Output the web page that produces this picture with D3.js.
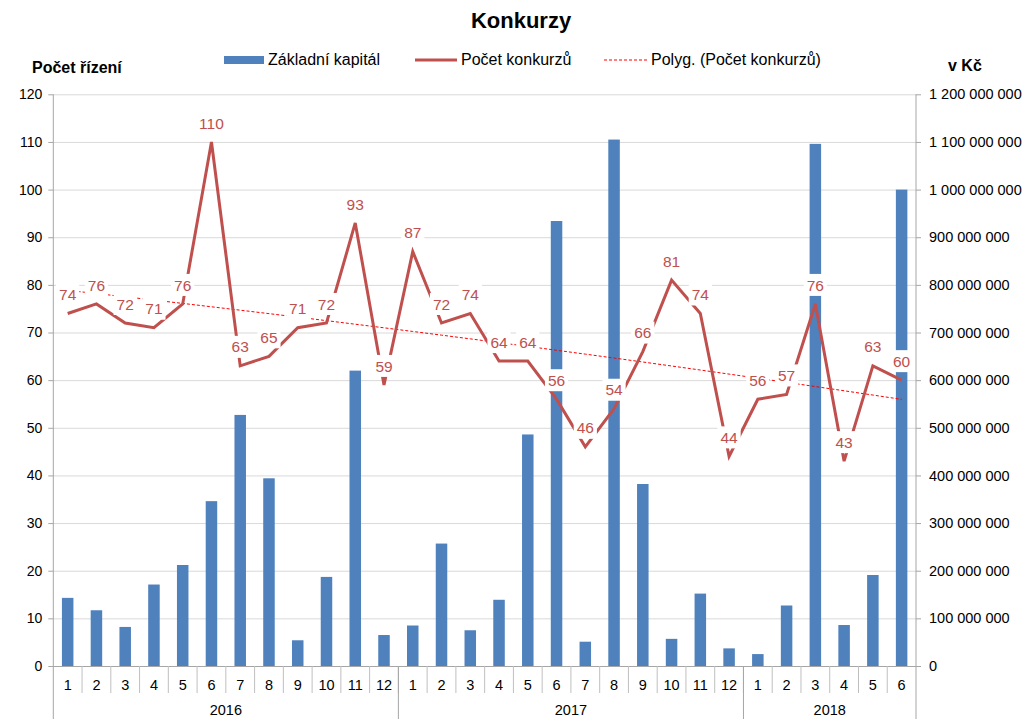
<!DOCTYPE html>
<html>
<head>
<meta charset="utf-8">
<script src="https://cdn.jsdelivr.net/npm/d3@7"></script>
<style>
  body { margin: 0; background: #fff; }
  svg text { font-family: "Liberation Sans", Arial, sans-serif; }
</style>
</head>
<body>
<div id="chart"></div>
<script>
// data
const months = [1,2,3,4,5,6,7,8,9,10,11,12, 1,2,3,4,5,6,7,8,9,10,11,12, 1,2,3,4,5,6];
const years = ["2016", "2017", "2018"];
const yearCounts = [12, 12, 6];
const kapital = [143e6,117e6,82e6,171e6,212e6,346e6,527e6,394e6,54e6,187e6,620e6,65e6,
                 85e6,257e6,75e6,139e6,486e6,934e6,51e6,1105e6,382e6,57e6,152e6,37e6,
                 25e6,127e6,1096e6,86e6,191e6,1000e6];
const konkurzy = [74,76,72,71,76,110,63,65,71,72,93,59,
                  87,72,74,64,64,56,46,54,66,81,74,44,
                  56,57,76,43,63,60];
const leftTicks = d3.range(0, 121, 10);
const rightTicks = d3.range(0, 1200000001, 100000000);

const W = 1025, H = 719;
const LEFT = 53.3, RIGHT = 916, TOP = 94.3, BOTTOM = 666;
const BLUE = "#4F81BD", RED = "#C0504D";

const svg = d3.select("#chart").append("svg")
    .attr("width", W)
    .attr("height", H);

const idx = d3.range(months.length);
const x = d3.scaleBand().domain(idx).range([LEFT, RIGHT])
    .paddingInner(0.6).paddingOuter(0.3);
const step = (RIGHT - LEFT) / months.length;
const cx = i => x(i) + x.bandwidth() / 2;
const yL = d3.scaleLinear().domain([0, 120]).range([BOTTOM, TOP]);
const yR = d3.scaleLinear().domain([0, 1200000000]).range([BOTTOM, TOP]);

// gridlines
svg.append("g")
    .selectAll("line")
    .data(leftTicks.filter(d => d > 0))
    .join("line")
    .attr("x1", LEFT).attr("x2", RIGHT)
    .attr("y1", d => yL(d) + 0.5).attr("y2", d => yL(d) + 0.5)
    .attr("stroke", "#D9D9D9");

// bars
svg.append("g")
    .selectAll("rect")
    .data(kapital)
    .join("rect")
    .attr("x", (d, i) => x(i))
    .attr("width", x.bandwidth())
    .attr("y", d => yR(d))
    .attr("height", d => BOTTOM - yR(d))
    .attr("fill", BLUE);

// polynomial trendline (order 2, least squares over the series)
function polyFit2(ys) {
    let s = [0,0,0,0,0], t = [0,0,0];
    ys.forEach((v, k) => {
        const xx = k + 1;
        for (let p = 0; p < 5; p++) s[p] += Math.pow(xx, p);
        for (let p = 0; p < 3; p++) t[p] += v * Math.pow(xx, p);
    });
    const M = [[s[0], s[1], s[2], t[0]], [s[1], s[2], s[3], t[1]], [s[2], s[3], s[4], t[2]]];
    for (let c = 0; c < 3; c++) {
        for (let r = c + 1; r < 3; r++) {
            const f = M[r][c] / M[c][c];
            for (let k = c; k < 4; k++) M[r][k] -= f * M[c][k];
        }
    }
    const b = [0,0,0];
    for (let r = 2; r >= 0; r--) {
        let v = M[r][3];
        for (let k = r + 1; k < 3; k++) v -= M[r][k] * b[k];
        b[r] = v / M[r][r];
    }
    return xx => b[0] + b[1] * xx + b[2] * xx * xx;
}
const trend = polyFit2(konkurzy);
svg.append("path")
    .datum(idx)
    .attr("d", d3.line().x(i => cx(i)).y(i => yL(trend(i + 1))).curve(d3.curveMonotoneX))
    .attr("fill", "none")
    .attr("stroke", "#FF0000")
    .attr("stroke-width", 1)
    .attr("stroke-dasharray", "3,2");

// line
svg.append("path")
    .datum(konkurzy)
    .attr("d", d3.line().x((d, i) => cx(i)).y(d => yL(d)))
    .attr("fill", "none")
    .attr("stroke", RED)
    .attr("stroke-width", 3)
    .attr("stroke-linejoin", "miter");

// data labels with white boxes
const lab = svg.append("g").selectAll("g")
    .data(konkurzy)
    .join("g")
    .attr("transform", (d, i) => `translate(${cx(i)},${yL(d) - 19})`);
lab.append("rect")
    .attr("x", d => -(String(d).length * 8.6) / 2 - 3)
    .attr("width", d => String(d).length * 8.6 + 6)
    .attr("y", -11)
    .attr("height", 22)
    .attr("fill", "#fff");
lab.append("text")
    .attr("text-anchor", "middle")
    .attr("dy", "0.36em")
    .attr("font-size", 15.5)
    .attr("fill", RED)
    .text(d => d);

// axes lines
const axisColor = "#A6A6A6";
svg.append("line").attr("x1", LEFT).attr("x2", LEFT).attr("y1", TOP).attr("y2", H)
    .attr("stroke", axisColor);
svg.append("line").attr("x1", RIGHT).attr("x2", RIGHT).attr("y1", TOP).attr("y2", H)
    .attr("stroke", axisColor);
svg.append("line").attr("x1", LEFT).attr("x2", RIGHT).attr("y1", BOTTOM + 0.5).attr("y2", BOTTOM + 0.5)
    .attr("stroke", axisColor);

// left axis
const gl = svg.append("g").attr("transform", `translate(${LEFT},0)`)
    .call(d3.axisLeft(yL).tickValues(leftTicks).tickSize(5).tickPadding(6));
gl.select(".domain").remove();
gl.selectAll("line").attr("stroke", axisColor);
gl.selectAll("text").attr("font-size", 14).attr("fill", "#000")
    .style("font-family", '"Liberation Sans", Arial, sans-serif');

// right axis
const fmt = d => d3.format(",")(d).replace(/,/g, " ");
const gr = svg.append("g").attr("transform", `translate(${RIGHT},0)`)
    .call(d3.axisRight(yR).tickValues(rightTicks).tickFormat(fmt).tickSize(5).tickPadding(8));
gr.select(".domain").remove();
gr.selectAll("line").attr("stroke", axisColor);
gr.selectAll("text").attr("font-size", 14.5).attr("fill", "#000")
    .style("font-family", '"Liberation Sans", Arial, sans-serif');

// category separators and labels
svg.append("g").selectAll("line")
    .data(d3.range(1, months.length))
    .join("line")
    .attr("x1", i => LEFT + i * step).attr("x2", i => LEFT + i * step)
    .attr("y1", BOTTOM).attr("y2", BOTTOM + 27)
    .attr("stroke", "#BFBFBF");
svg.append("g").selectAll("text")
    .data(months)
    .join("text")
    .attr("x", (d, i) => cx(i))
    .attr("y", 690)
    .attr("text-anchor", "middle")
    .attr("font-size", 14.5)
    .text(d => d);

// year groups
const yearStart = d3.cumsum([0, ...yearCounts]);
svg.append("g").selectAll("line")
    .data(yearStart.slice(1, -1))
    .join("line")
    .attr("x1", s => LEFT + s * step).attr("x2", s => LEFT + s * step)
    .attr("y1", BOTTOM).attr("y2", H)
    .attr("stroke", axisColor);
svg.append("g").selectAll("text")
    .data(years)
    .join("text")
    .attr("x", (d, i) => LEFT + (yearStart[i] + yearCounts[i] / 2) * step)
    .attr("y", 715)
    .attr("text-anchor", "middle")
    .attr("font-size", 14.5)
    .text(d => d);

// title and axis titles
svg.append("text").attr("x", 521).attr("y", 28).attr("text-anchor", "middle")
    .attr("font-size", 22).attr("font-weight", "bold").text("Konkurzy");
svg.append("text").attr("x", 32).attr("y", 73)
    .attr("font-size", 16).attr("font-weight", "bold").text("Počet řízení");
svg.append("text").attr("x", 948).attr("y", 71)
    .attr("font-size", 16).attr("font-weight", "bold").text("v Kč");

// legend
const lg = svg.append("g");
lg.append("rect").attr("x", 224).attr("y", 56).attr("width", 40).attr("height", 8).attr("fill", BLUE);
lg.append("text").attr("x", 268).attr("y", 65).attr("font-size", 16).text("Základní kapitál");
lg.append("line").attr("x1", 415).attr("x2", 457).attr("y1", 60).attr("y2", 60)
    .attr("stroke", RED).attr("stroke-width", 3);
lg.append("text").attr("x", 461).attr("y", 65).attr("font-size", 16).text("Počet konkurzů");
lg.append("line").attr("x1", 604).attr("x2", 647).attr("y1", 60).attr("y2", 60)
    .attr("stroke", "#FF0000").attr("stroke-dasharray", "3,2");
lg.append("text").attr("x", 651).attr("y", 65).attr("font-size", 16).text("Polyg. (Počet konkurzů)");
</script>
</body>
</html>
